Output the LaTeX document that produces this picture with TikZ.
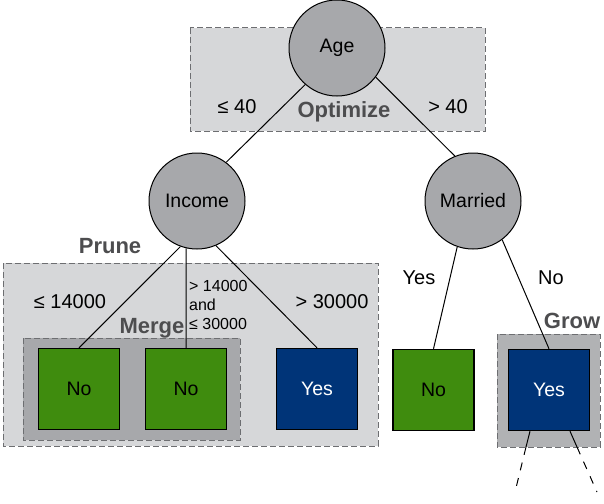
\documentclass[tikz,border=0pt]{standalone}
\usepackage{fontspec}
\setmainfont{Liberation Sans}
\definecolor{nodegray}{HTML}{A7A8AB}
\definecolor{lightbox}{HTML}{D6D7D9}
\definecolor{midbox}{HTML}{A7A8AB}
\definecolor{growbox}{HTML}{B1B2B4}
\definecolor{leafgreen}{HTML}{3F8C0E}
\definecolor{leafblue}{HTML}{003478}
\definecolor{dashgray}{HTML}{6D6E71}
\definecolor{labgray}{HTML}{4D4D4F}
\begin{document}
\begin{tikzpicture}[x=1pt,y=-1pt,
  decision/.style={circle, draw=black, line width=1pt, fill=nodegray, minimum size=96pt, inner sep=0pt, font=\fontsize{19.5}{22}\selectfont},
  leaf/.style={rectangle, draw=black, line width=1.4pt, minimum size=81pt, inner sep=0pt, font=\fontsize{19.5}{22}\selectfont},
  greenleaf/.style={leaf, fill=leafgreen, text=black},
  blueleaf/.style={leaf, fill=leafblue, text=white},
  region/.style={draw=dashgray, dash pattern=on 6pt off 3pt, line width=1pt},
  tag/.style={font=\bfseries\fontsize{22}{24}\selectfont, text=labgray, inner sep=0pt},
  lab/.style={font=\fontsize{20}{22}\selectfont, inner sep=0pt},
  smalllab/.style={font=\fontsize{16}{19}\selectfont, align=left, inner sep=0pt},
  edge/.style={line width=1pt, black}]
\useasboundingbox (0,0) rectangle (604,503);
% regions
\draw[region, fill=lightbox] (190,28) rectangle (485,131);
\draw[region, fill=lightbox] (3,263) rectangle (378,446);
\draw[region, fill=midbox] (23,338) rectangle (240,440);
\draw[region, fill=growbox] (497,334) rectangle (600,447);
% decision nodes
\node[decision] (age) at (337,48) {Age};
\node[decision] (income) at (197,201) {Income};
\node[decision] (married) at (473,201) {Married};
% leaves
\node[greenleaf] (no1) at (79,389) {No};
\node[greenleaf] (no2) at (186,389) {No};
\node[blueleaf] (yes1) at (317,389) {Yes};
\node[greenleaf] (no3) at (433.5,390) {No};
\node[blueleaf] (yes2) at (549,390) {Yes};
% edges
\draw[edge] (age.229) -- (income.53);
\draw[edge] (age.-37) -- (married.112);
\draw[edge] (income.-110) -- (no1.north);
\draw[edge] (income.-103) -- (no2.north);
\draw[edge] (income.-67) -- (yes1.north);
\draw[edge] (married.-109) -- (no3.north);
\draw[edge] (married.-53) -- (yes2.north);
% growing branches
\coordinate (gs1) at ([xshift=-19pt]yes2.south);
\coordinate (gs2) at ([xshift=21pt]yes2.south);
\coordinate (gm1) at (526,447);
\coordinate (gm2) at (577,447);
\coordinate (ge1) at (515,492);
\coordinate (ge2) at (597,492);
\draw[edge] (gs1) -- (gm1);
\draw[edge] (gs2) -- (gm2);
\draw[edge, dash pattern=on 8pt off 8pt] (gm1) -- (ge1);
\draw[edge, dash pattern=on 8pt off 8pt] (gm2) -- (ge2);
% labels
\node[lab] (l40) at (237,107) {≤ 40};
\node[tag] (opt) at (344,112) {Optimize};
\node[lab] (g40) at (448,107) {> 40};
\node[tag] (prune) at (110,246) {Prune};
\node[tag] (merge) at (152,328) {Merge};
\node[tag] (grow) at (572,321) {Grow};
\node[lab] (l14) at (70,302) {≤ 14000};
\node[smalllab, anchor=west] (mid) at (189,305) {> 14000\\and\\≤ 30000};
\node[lab] (g30) at (332,302) {> 30000};
\node[lab] (myes) at (419,278) {Yes};
\node[lab] (mno) at (551,278) {No};
\end{tikzpicture}
\end{document}
